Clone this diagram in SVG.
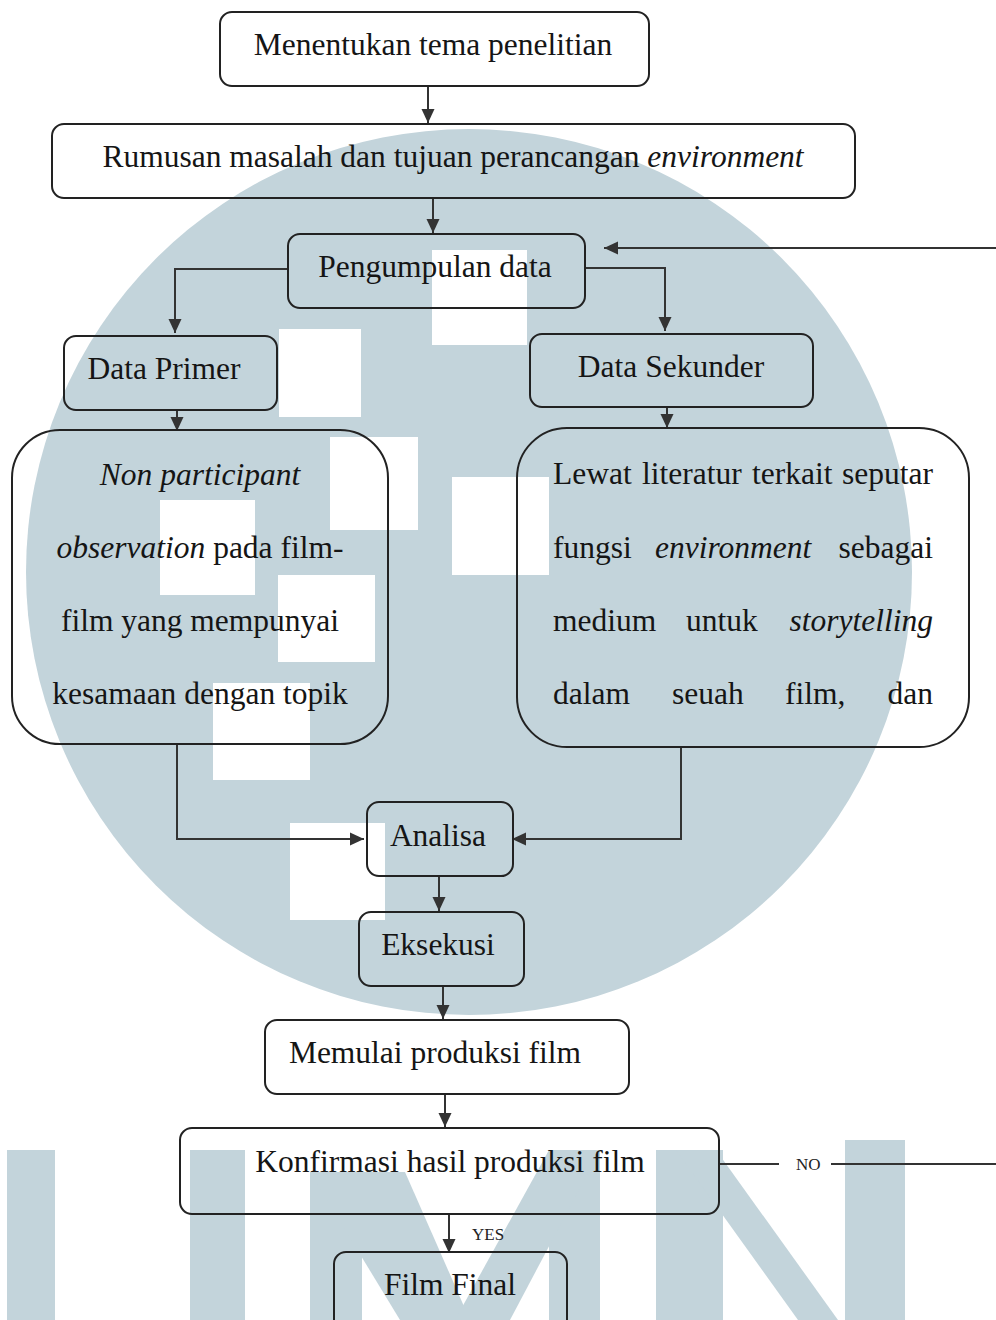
<svg xmlns="http://www.w3.org/2000/svg" width="996" height="1320" viewBox="0 0 996 1320">
<style>
.box{fill:none;stroke:#222;stroke-width:2}
.t{font-family:"Liberation Serif","Times New Roman",serif;font-size:31.5px;fill:#151515}
.c{text-anchor:middle}
.e{text-anchor:end}
.i{font-style:italic}
.ln{fill:none;stroke:#333;stroke-width:2}
.wm{fill:#c3d4db}
.hole{fill:#ffffff}
.lbl{font-family:"Liberation Serif","Times New Roman",serif;font-size:17px;fill:#222}
</style>
<defs>
<marker id="ah" markerUnits="userSpaceOnUse" markerWidth="15" markerHeight="14" refX="14" refY="7" orient="auto">
<path d="M0,0.5 L14,7 L0,13.5 z" fill="#333"/>
</marker>
</defs>
<rect width="996" height="1320" fill="#ffffff"/>
<g id="watermark">
<circle cx="469" cy="572" r="443" class="wm"/>
<rect class="hole" x="432" y="250" width="95" height="95"/>
<rect class="hole" x="279" y="329" width="82" height="88"/>
<rect class="hole" x="330" y="437" width="88" height="93"/>
<rect class="hole" x="452" y="477" width="97" height="98"/>
<rect class="hole" x="160" y="500" width="95" height="95"/>
<rect class="hole" x="278" y="575" width="97" height="87"/>
<rect class="hole" x="213" y="683" width="97" height="97"/>
<rect class="hole" x="290" y="823" width="95" height="97"/>
<rect class="wm" x="7" y="1150" width="48" height="170"/>
<rect class="wm" x="190" y="1150" width="55" height="170"/>
<rect class="wm" x="310" y="1172" width="52" height="148"/>
<polygon class="wm" points="310,1172 405,1172 470,1320 400,1320"/>
<rect class="wm" x="549" y="1150" width="51" height="170"/>
<polygon class="wm" points="549,1150 600,1150 510,1320 455,1320"/>
<rect class="wm" x="656" y="1150" width="67" height="170"/>
<polygon class="wm" points="676,1150 716,1150 838,1320 798,1320"/>
<rect class="wm" x="845" y="1140" width="60" height="180"/>
</g>
<g id="connectors">
<path class="ln" d="M428,86 V123" marker-end="url(#ah)"/>
<path class="ln" d="M433,198 V233" marker-end="url(#ah)"/>
<path class="ln" d="M996,248 H604" marker-end="url(#ah)"/>
<path class="ln" d="M288,269 H175 V333" marker-end="url(#ah)"/>
<path class="ln" d="M585,268 H665 V331" marker-end="url(#ah)"/>
<path class="ln" d="M177,410 V431" marker-end="url(#ah)"/>
<path class="ln" d="M667,407 V428" marker-end="url(#ah)"/>
<path class="ln" d="M177,744 V839 H364" marker-end="url(#ah)"/>
<path class="ln" d="M681,747 V839 H512" marker-end="url(#ah)"/>
<path class="ln" d="M439,876 V911" marker-end="url(#ah)"/>
<path class="ln" d="M443,986 V1019" marker-end="url(#ah)"/>
<path class="ln" d="M445,1094 V1127" marker-end="url(#ah)"/>
<path class="ln" d="M449,1215 V1253" marker-end="url(#ah)"/>
<path class="ln" d="M719,1164 H779"/>
<path class="ln" d="M831,1164 H996"/>
<text class="lbl" x="796" y="1170">NO</text>
<text class="lbl" x="472" y="1240">YES</text>
</g>
<g id="n1">
<rect class="box" x="220" y="12" width="429" height="74" rx="12"/>
<text class="t c" x="433" y="55">Menentukan tema penelitian</text>
</g>
<g id="n2">
<rect class="box" x="52" y="124" width="803" height="74" rx="12"/>
<text class="t c" x="453" y="167">Rumusan masalah dan tujuan perancangan <tspan class="i">environment</tspan></text>
</g>
<g id="n3">
<rect class="box" x="288" y="234" width="297" height="74" rx="12"/>
<text class="t c" x="435" y="277">Pengumpulan data</text>
</g>
<g id="n4">
<rect class="box" x="64" y="336" width="213" height="74" rx="12"/>
<text class="t c" x="164" y="379">Data Primer</text>
</g>
<g id="n5">
<rect class="box" x="530" y="334" width="283" height="73" rx="12"/>
<text class="t c" x="671" y="377">Data Sekunder</text>
</g>
<g id="n6">
<rect class="box" x="12" y="430" width="376" height="314" rx="48"/>
<text class="t c i" x="200" y="485">Non participant</text>
<text class="t c" x="200" y="558"><tspan class="i">observation</tspan> pada film-</text>
<text class="t c" x="200" y="631">film yang mempunyai</text>
<text class="t c" x="200" y="704">kesamaan dengan topik</text>
</g>
<g id="n7">
<rect class="box" x="517" y="428" width="452" height="319" rx="50"/>
<text class="t" x="553" y="484">Lewat</text>
<text class="t" x="642" y="484">literatur</text>
<text class="t" x="752" y="484">terkait</text>
<text class="t e" x="933" y="484">seputar</text>
<text class="t" x="553" y="558">fungsi</text>
<text class="t i" x="655" y="558">environment</text>
<text class="t e" x="933" y="558">sebagai</text>
<text class="t" x="553" y="631">medium</text>
<text class="t" x="686" y="631">untuk</text>
<text class="t e i" x="933" y="631">storytelling</text>
<text class="t" x="553" y="704">dalam</text>
<text class="t" x="672" y="704">seuah</text>
<text class="t" x="785" y="704">film,</text>
<text class="t e" x="933" y="704">dan</text>
</g>
<g id="n8">
<rect class="box" x="367" y="802" width="146" height="74" rx="12"/>
<text class="t c" x="438" y="846">Analisa</text>
</g>
<g id="n9">
<rect class="box" x="359" y="912" width="165" height="74" rx="12"/>
<text class="t c" x="438" y="955">Eksekusi</text>
</g>
<g id="n10">
<rect class="box" x="265" y="1020" width="364" height="74" rx="12"/>
<text class="t c" x="435" y="1063">Memulai produksi film</text>
</g>
<g id="n11">
<rect class="box" x="180" y="1128" width="539" height="86" rx="12"/>
<text class="t c" x="450" y="1172">Konfirmasi hasil produksi film</text>
</g>
<g id="n12">
<rect class="box" x="334" y="1252" width="233" height="100" rx="12"/>
<text class="t c" x="450" y="1295">Film Final</text>
</g>
</svg>
